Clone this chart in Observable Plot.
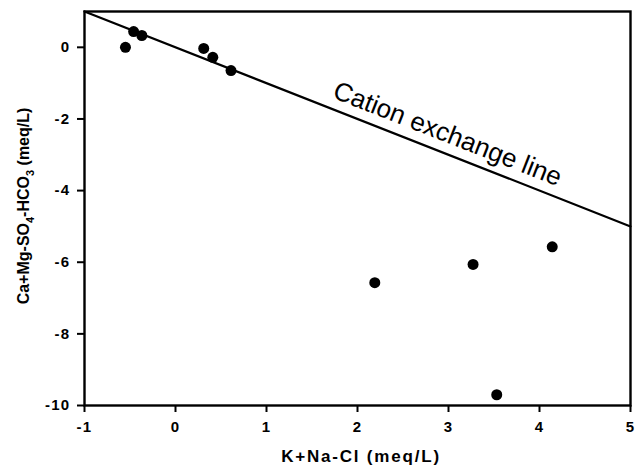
<!DOCTYPE html>
<html><head><meta charset="utf-8">
<script src="https://cdn.jsdelivr.net/npm/d3@7"></script>
<script src="https://cdn.jsdelivr.net/npm/@observablehq/plot@0.6"></script>
<style>body{margin:0;background:#fff}</style>
</head><body><div id="chart"></div>
<script>
const xVals = [-0.55, -0.46, -0.37, 0.31, 0.41, 0.61, 2.19, 3.27, 4.14, 3.53];
const yVals = [0.0, 0.44, 0.33, -0.03, -0.28, -0.65, -6.57, -6.06, -5.57, -9.70];
const lineX = [-1, 5];
const lineY = [1, -5];
const xTicks = [-1, 0, 1, 2, 3, 4, 5];
const yTicks = [0, -2, -4, -6, -8, -10];
const annotation = "Cation exchange line";

const pts = xVals.map((x, i) => ({x, y: yVals[i]}));
const lineData = lineX.map((x, i) => ({x, y: lineY[i]}));
const FONT = "Liberation Sans, Arial, sans-serif";

const chart = Plot.plot({
  width: 642, height: 471,
  marginLeft: 84, marginRight: 12, marginTop: 11, marginBottom: 66,
  style: {fontFamily: FONT, background: "#fff"},
  x: {domain: [-1, 5]},
  y: {domain: [-10, 1]},
  marks: [
    Plot.line(lineData, {x: "x", y: "y", stroke: "black", strokeWidth: 2.2}),
    Plot.dot(pts, {x: "x", y: "y", r: 5.5, fill: "black", stroke: "none"}),
    Plot.text([{x: 2.99, y: -2.42}], {x: "x", y: "y", text: () => annotation, rotate: 21.5, fontSize: 26, fontWeight: "normal", fill: "black"}),
    Plot.axisX({ticks: xTicks, tickFormat: d => String(d), tickSize: 7, strokeWidth: 2, tickPadding: 9, fontSize: 15, fontWeight: "bold", label: null}),
    Plot.axisY({ticks: yTicks, tickFormat: d => String(d), tickSize: 7, strokeWidth: 2, tickPadding: 7, fontSize: 15, fontWeight: "bold", label: null}),
    Plot.frame({stroke: "black", strokeWidth: 2.4})
  ]
});
const svg = d3.select(chart);
svg.selectAll('[aria-label*="axis"] text').style("letter-spacing", "1.3px");
svg.append("text")
  .attr("x", 361).attr("y", 462)
  .attr("text-anchor", "middle")
  .style("font-family", FONT)
  .style("font-size", "17px").style("font-weight", "bold")
  .style("letter-spacing", "1.8px")
  .text("K+Na-Cl (meq/L)");
const yl = svg.append("text")
  .attr("transform", "translate(29,206) rotate(-90)")
  .attr("text-anchor", "middle")
  .style("font-family", FONT)
  .style("font-size", "16px").style("font-weight", "bold");
yl.append("tspan").text("Ca+Mg-SO");
yl.append("tspan").attr("dy", 5).style("font-size", "11px").text("4");
yl.append("tspan").attr("dy", -5).text("-HCO");
yl.append("tspan").attr("dy", 5).style("font-size", "11px").text("3");
yl.append("tspan").attr("dy", -5).text(" (meq/L)");
document.getElementById("chart").appendChild(chart);
</script>
</body></html>
